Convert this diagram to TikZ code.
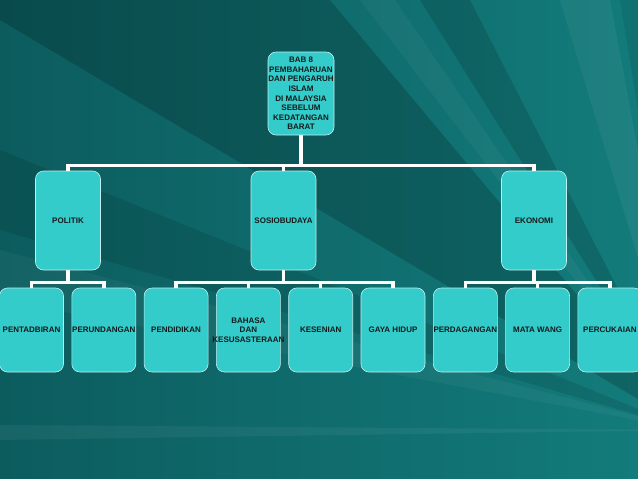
\documentclass[tikz,border=0pt]{standalone}
\usepackage{fontspec}
\setmainfont{Liberation Sans}
\usepackage{xcolor}
\usetikzlibrary{positioning, calc}

\definecolor{bgdark}{HTML}{0C5C5E}
\definecolor{bglight}{HTML}{137B7B}
\definecolor{boxfill}{HTML}{34CBCB}
\definecolor{boxtext}{HTML}{161A1A}

% a line that may run past its box
\newcommand{\widetxt}[1]{\makebox[0pt]{#1}}

\begin{document}
\begin{tikzpicture}[x=1pt, y=-1pt, node distance=7.7pt,
                link/.style={draw=white, line width=3.4pt}]

                % Define the style for the boxes
                \tikzset{box/.style={rectangle, rounded corners=8pt, fill=boxfill,
                    draw=white!70!boxfill, line width=0.6pt, inner sep=0pt,
                    text=boxtext, align=center,
                    font=\bfseries\fontsize{8}{9.6}\selectfont},
                  topbox/.style={box, minimum width=66pt, minimum height=83pt},
                  midbox/.style={box, minimum width=65pt, minimum height=99pt},
                  leafbox/.style={box, minimum width=64pt, minimum height=84pt}}

                % Background
                \useasboundingbox (0,0) rectangle (638,479);
                \shade[left color=bgdark, right color=bglight] (0,0) rectangle (638,479);
                \coordinate (focus) at (690,430);
                \fill[black, opacity=0.18] (focus) -- (0,20) -- (0,0) -- (330,0) -- cycle;
                \fill[black, opacity=0.10] (focus) -- (0,150) -- (0,230) -- cycle;
                \fill[black, opacity=0.14] (focus) -- (420,0) -- (470,0) -- cycle;
                \fill[white, opacity=0.04] (focus) -- (360,0) -- (395,0) -- cycle;
                \fill[white, opacity=0.05] (focus) -- (560,0) -- (610,0) -- cycle;
                \fill[black, opacity=0.08] (focus) -- (620,0) -- (638,0) -- (638,60) -- cycle;
                \fill[white, opacity=0.04] (focus) -- (0,250) -- (0,300) -- cycle;
                \fill[white, opacity=0.05] (focus) -- (0,425) -- (0,440) -- cycle;

                % Nodes
                \node[topbox] (top) at (301,93.5)
                  {BAB 8\\PEMBAHARUAN\\DAN PENGARUH\\ISLAM\\DI MALAYSIA\\SEBELUM\\KEDATANGAN\\BARAT};

                \node[midbox] (politik) at (68,220.5) {POLITIK};
                \node[midbox] (sosio) at (283.5,220.5) {SOSIOBUDAYA};
                \node[midbox] (ekonomi) at (534,220.5) {EKONOMI};

                \node[leafbox] (pentadbiran) at (31.5,330) {PENTADBIRAN};
                \node[leafbox, right=of pentadbiran] (perundangan) {\widetxt{PERUNDANGAN}};
                \node[leafbox, right=of perundangan] (pendidikan) {PENDIDIKAN};
                \node[leafbox, right=of pendidikan] (bahasa) {BAHASA\\DAN\\\widetxt{KESUSASTERAAN}};
                \node[leafbox, right=of bahasa] (kesenian) {KESENIAN};
                \node[leafbox, right=of kesenian] (gaya) {GAYA HIDUP};
                \node[leafbox, right=of gaya] (perdagangan) {\widetxt{PERDAGANGAN}};
                \node[leafbox, right=of perdagangan] (matawang) {MATA WANG};
                \node[leafbox, right=of matawang] (percukaian) {PERCUKAIAN};

                % Links
                \foreach \c in {politik, sosio, ekonomi}
                  \draw[link] (top.south) -- ++(0,30) -| (\c.north);
                \foreach \c in {pentadbiran, perundangan}
                  \draw[link] (politik.south) -- ++(0,12) -| (\c.north);
                \foreach \c in {pendidikan, bahasa, kesenian, gaya}
                  \draw[link] (sosio.south) -- ++(0,12) -| (\c.north);
                \foreach \c in {perdagangan, matawang, percukaian}
                  \draw[link] (ekonomi.south) -- ++(0,12) -| (\c.north);
            \end{tikzpicture}
\end{document}
